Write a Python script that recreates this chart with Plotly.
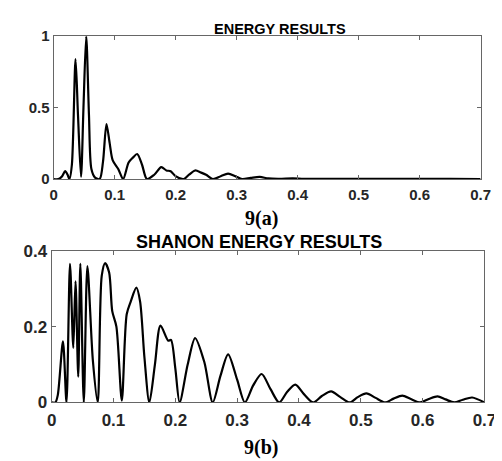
import plotly.graph_objects as go

# ---- Data: 9(a) ENERGY RESULTS ----
energy_x = [0, 0.008, 0.014, 0.019, 0.023, 0.026, 0.030, 0.036, 0.040, 0.045, 0.049,
            0.0535, 0.058, 0.062, 0.068, 0.0755, 0.081, 0.0867, 0.092, 0.097, 0.106,
            0.114, 0.123, 0.130, 0.137, 0.145, 0.153, 0.165, 0.1765, 0.185, 0.192,
            0.200, 0.2135, 0.222, 0.232, 0.242, 0.25, 0.261, 0.274, 0.286, 0.298,
            0.309, 0.323, 0.338, 0.352, 0.37, 0.392, 0.41, 0.45, 0.5, 0.55, 0.6, 0.65, 0.7]
energy_y = [0, 0, 0.02, 0.055, 0.03, 0, 0.1, 0.84, 0.45, 0.015, 0.5,
            1.0, 0.45, 0.07, 0.01, 0, 0.12, 0.385, 0.25, 0.13, 0.07,
            0, 0.116, 0.15, 0.175, 0.1, 0, 0.03, 0.083, 0.06, 0.055,
            0.02, 0, 0.03, 0.06, 0.045, 0.03, 0, 0.02, 0.038, 0.02,
            0, 0.008, 0.015, 0.004, 0.002, 0.005, 0.002, 0.001, 0.002, 0.001, 0.001, 0.001, 0]

# ---- Data: 9(b) SHANON ENERGY RESULTS ----
shannon_x = [0, 0.006, 0.010, 0.0183, 0.024, 0.0297, 0.035, 0.0386, 0.043, 0.0464,
             0.052, 0.0578, 0.0667, 0.0745, 0.081, 0.0865, 0.093, 0.098, 0.1047, 0.1135,
             0.1214, 0.128, 0.137, 0.143, 0.150, 0.158, 0.167, 0.176, 0.1886, 0.193,
             0.200, 0.207, 0.220, 0.232, 0.247, 0.2605, 0.273, 0.2854, 0.30, 0.3125,
             0.326, 0.3396, 0.354, 0.368, 0.381, 0.394, 0.408, 0.423, 0.437, 0.452,
             0.467, 0.482, 0.495, 0.509, 0.524, 0.539, 0.553, 0.567, 0.581, 0.596,
             0.61, 0.624, 0.637, 0.651, 0.665, 0.680, 0.70]
shannon_y = [0, 0, 0.02, 0.161, 0, 0.366, 0.144, 0.32, 0.068, 0.366,
             0, 0.36, 0.11, 0, 0.334, 0.368, 0.343, 0.241, 0.2, 0.005,
             0.233, 0.267, 0.303, 0.267, 0.12, 0, 0.1, 0.203, 0.163, 0.165,
             0.09, 0, 0.1, 0.17, 0.106, 0, 0.07, 0.127, 0.06, 0,
             0.045, 0.075, 0.035, 0, 0.028, 0.047, 0.022, 0, 0.017, 0.029,
             0.014, 0, 0.014, 0.024, 0.012, 0, 0.01, 0.018, 0.009, 0,
             0.009, 0.016, 0.008, 0, 0.007, 0.013, 0.0]

x_ticks = [0, 0.1, 0.2, 0.3, 0.4, 0.5, 0.6, 0.7]
x_ticktext = ["0", "0.1", "0.2", "0.3", "0.4", "0.5", "0.6", "0.7"]
top_y_ticks = [0, 0.5, 1]
top_y_ticktext = ["0", "0.5", "1"]
bot_y_ticks = [0, 0.2, 0.4]
bot_y_ticktext = ["0", "0.2", "0.4"]

W, H = 502, 461

fig = go.Figure()
fig.add_trace(go.Scatter(x=energy_x, y=energy_y, mode="lines",
                         line=dict(color="black", width=2.2, shape="spline", smoothing=0.8),
                         xaxis="x", yaxis="y", showlegend=False, hoverinfo="skip"))
fig.add_trace(go.Scatter(x=shannon_x, y=shannon_y, mode="lines",
                         line=dict(color="black", width=2.2, shape="spline", smoothing=0.8),
                         xaxis="x2", yaxis="y2", showlegend=False, hoverinfo="skip"))

axis_common = dict(showgrid=False, zeroline=False, showline=True, linecolor="#666",
                   linewidth=1, mirror="ticks", ticks="inside", ticklen=4,
                   tickcolor="#666", tickwidth=1)

top_font = dict(family="Liberation Sans", size=15, color="#262626", weight="bold")
bot_font = dict(family="Liberation Sans", size=17, color="#262626", weight="bold")

fig.update_layout(
    width=W, height=H,
    margin=dict(l=0, r=0, t=0, b=0),
    paper_bgcolor="white", plot_bgcolor="white",
    xaxis=dict(domain=[42 / W, 484 / W], range=[0, 0.7], anchor="y",
               tickvals=x_ticks, ticktext=x_ticktext, tickfont=top_font,
               ticklabelstandoff=2, **axis_common),
    yaxis=dict(domain=[1 - 169 / H, 1 - 20 / H], range=[0, 1], anchor="x",
               tickvals=top_y_ticks, ticktext=top_y_ticktext, tickfont=top_font,
               **axis_common),
    xaxis2=dict(domain=[40 / W, 488 / W], range=[0, 0.7], anchor="y2",
                tickvals=x_ticks, ticktext=x_ticktext, tickfont=bot_font,
                ticklabelstandoff=2, **axis_common),
    yaxis2=dict(domain=[1 - 402 / H, 1 - 244 / H], range=[0, 0.4], anchor="x2",
                tickvals=bot_y_ticks, ticktext=bot_y_ticktext, tickfont=bot_font,
                **axis_common),
)

def ann(text, x_px, y_px, size, family, color="black"):
    fig.add_annotation(text=text, x=x_px / W, y=1 - y_px / H, xref="paper", yref="paper",
                       xanchor="center", yanchor="middle", showarrow=False,
                       font=dict(family=family, size=size, color=color, weight="bold"))

ann("ENERGY RESULTS", 276, 12, 14.5, "Liberation Sans")
ann("9(a)", 257, 210, 20, "Liberation Serif")
ann("SHANON ENERGY RESULTS", 255, 235, 18, "Liberation Sans")
ann("9(b)", 257, 449, 20, "Liberation Serif")

fig.write_html("out.html")
